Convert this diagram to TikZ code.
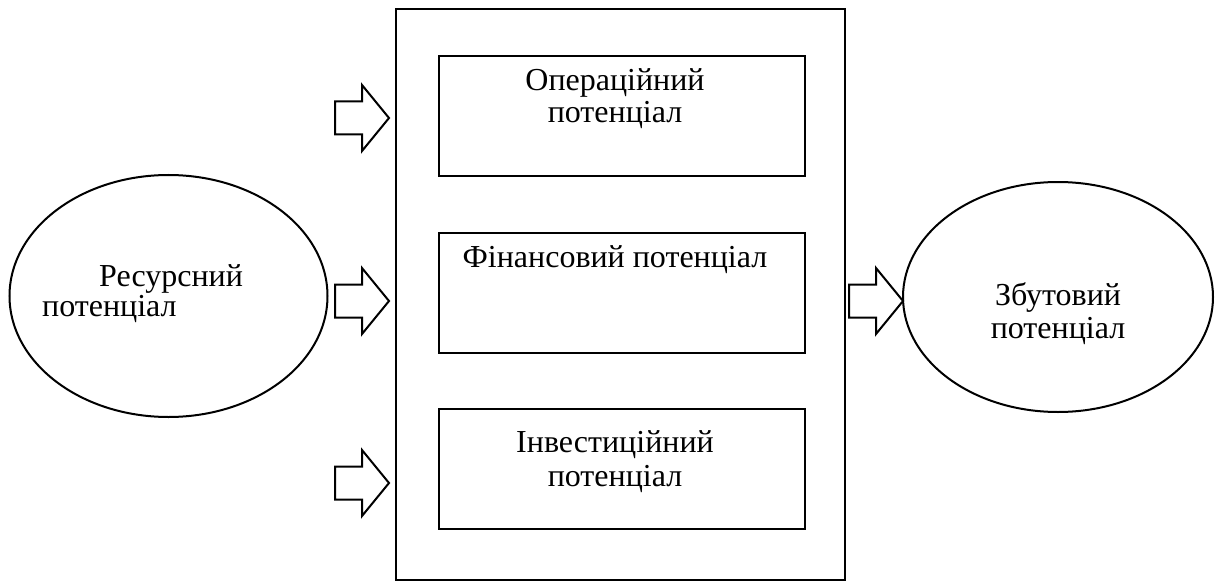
\documentclass[tikz,border=0pt]{standalone}
\usepackage{fontspec}
\setmainfont{Liberation Serif}
\usetikzlibrary{shapes.geometric}
\tikzset{
  box/.style={draw, line width=2pt, rectangle, inner sep=0pt},
  oval/.style={draw, line width=2pt, ellipse, inner sep=0pt},
  txt/.style={inner sep=0pt, font=\fontsize{32}{36}\selectfont},
  blockarrow/.pic={
    \draw[line width=2pt, line join=miter, fill=white]
      (0,0) -- (-27,-33) -- (-27,-16.5) -- (-54,-16.5) -- (-54,16.5)
      -- (-27,16.5) -- (-27,33) -- cycle;
  }
}
\begin{document}
\begin{tikzpicture}[x=1pt,y=-1pt]
\useasboundingbox (0,0) rectangle (1221,583);
% main frame
\node[box, minimum width=449pt, minimum height=571pt] (main) at (620.5,294.5) {};
% inner boxes
\node[box, minimum width=366pt, minimum height=120pt] (op) at (622,116) {};
\node[box, minimum width=366pt, minimum height=120pt] (fin) at (622,293) {};
\node[box, minimum width=366pt, minimum height=120pt] (inv) at (622,469) {};
% ellipses
\node[oval, minimum width=318pt, minimum height=242pt] (res) at (168.5,296) {};
\node[oval, minimum width=310pt, minimum height=230pt] (zb) at (1058,297) {};
% texts
\node[txt, anchor=base] (op1) at (615,91) {Операційний};
\node[txt, anchor=base] (op2) at (615,123) {потенціал};
\node[txt, anchor=base] (fin1) at (615,267) {Фінансовий потенціал};
\node[txt, anchor=base] (inv1) at (615,452) {Інвестиційний};
\node[txt, anchor=base] (inv2) at (615,486) {потенціал};
\node[txt, anchor=base west] (res1) at (99,286) {Ресурсний};
\node[txt, anchor=base west] (res2) at (42,316) {потенціал};
\node[txt, anchor=base] (zb1) at (1058,305) {Збутовий};
\node[txt, anchor=base] (zb2) at (1058,338) {потенціал};
% block arrows
\coordinate (t1) at (389,118);
\coordinate (t2) at (389,301);
\coordinate (t3) at (389,483);
\coordinate (t4) at (903,301);
\pic at (t1) {blockarrow};
\pic at (t2) {blockarrow};
\pic at (t3) {blockarrow};
\pic at (t4) {blockarrow};
\end{tikzpicture}
\end{document}
